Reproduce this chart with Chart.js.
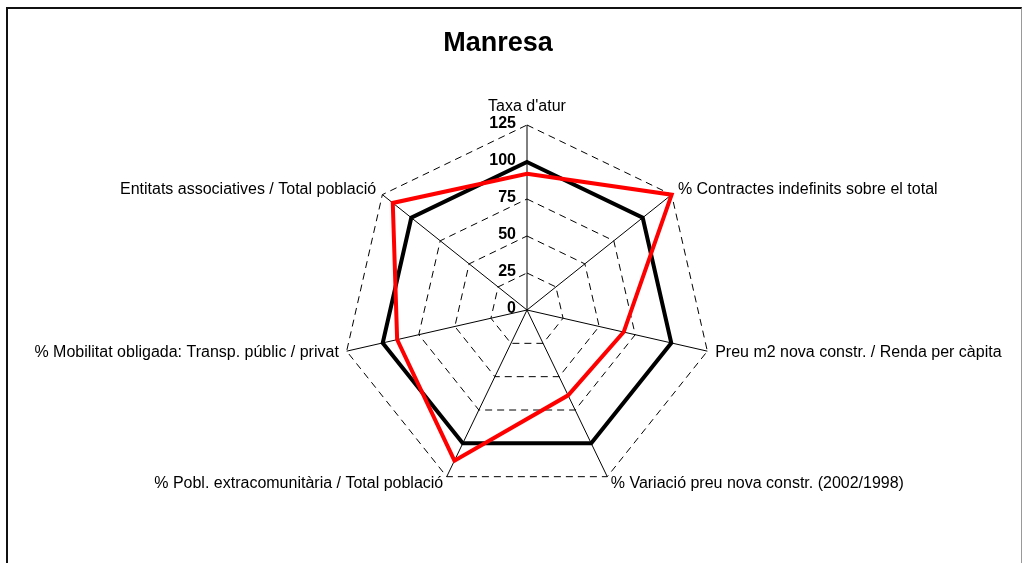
<!DOCTYPE html>
<html>
<head>
<meta charset="utf-8">
<script src="https://cdn.jsdelivr.net/npm/chart.js@4/dist/chart.umd.min.js"></script>
<style>
  html, body { margin: 0; padding: 0; background: #fff; }
  #wrap { position: relative; width: 1022px; height: 563px; overflow: hidden; }
  #frame { position: absolute; left: 6px; top: 7px; width: 1013px; height: 600px;
           border-left: 2px solid #111; border-top: 2px solid #111; border-right: 1px solid #999; }
  canvas { position: absolute; left: 0; top: 0; }
</style>
</head>
<body>
<div id="wrap">
  <div id="frame"></div>
  <canvas id="c" width="1022" height="563"></canvas>
</div>
<script>
const categories = [
  "Taxa d'atur",
  "% Contractes indefinits sobre el total",
  "Preu m2 nova constr. / Renda per càpita",
  "% Variació preu nova constr. (2002/1998)",
  "% Pobl. extracomunitària / Total població",
  "% Mobilitat obligada: Transp. públic / privat",
  "Entitats associatives / Total població"
];
const manresaValues = [92, 125, 67, 64, 113, 90, 116];
const referenceValues = [100, 100, 100, 100, 100, 100, 100];
const tickValues = [0, 25, 50, 75, 100, 125];
const chartTitle = "Manresa";

const CX = 527, CY = 310, R = 185;
const FONT = "'Liberation Sans', Arial, sans-serif";

const labelPlugin = {
  id: 'customLabels',
  afterDraw(chart) {
    const s = chart.scales.r;
    const ctx = chart.ctx;
    ctx.save();
    ctx.fillStyle = '#000';
    // tick labels
    ctx.font = 'bold 16px ' + FONT;
    ctx.textAlign = 'right';
    ctx.textBaseline = 'middle';
    s.ticks.forEach(t => {
      const d = s.getDistanceFromCenterForValue(t.value);
      ctx.fillText(String(t.value), s.xCenter - 11, s.yCenter - d - 1);
    });
    // point labels
    ctx.font = '16px ' + FONT;
    chart.data.labels.forEach((lab, i) => {
      if (i === 0) {
        const p = s.getPointPosition(0, s.drawingArea + 14);
        ctx.textAlign = 'center';
        ctx.textBaseline = 'alphabetic';
        ctx.fillText(lab, p.x, p.y);
      } else {
        const p = s.getPointPosition(i, s.drawingArea + 8);
        ctx.textAlign = p.x > s.xCenter ? 'left' : 'right';
        ctx.textBaseline = 'middle';
        ctx.fillText(lab, p.x, p.y);
      }
    });
    ctx.restore();
  }
};

new Chart(document.getElementById('c'), {
  type: 'radar',
  data: {
    labels: categories,
    datasets: [
      {
        label: 'Manresa',
        data: manresaValues,
        borderColor: '#ff0000',
        backgroundColor: 'transparent',
        borderWidth: 4,
        fill: false,
        pointRadius: 0,
        pointHoverRadius: 0,
        borderJoinStyle: 'miter',
        tension: 0
      },
      {
        label: 'Referència (100)',
        data: referenceValues,
        borderColor: '#000000',
        backgroundColor: 'transparent',
        borderWidth: 4,
        fill: false,
        pointRadius: 0,
        pointHoverRadius: 0,
        borderJoinStyle: 'miter',
        tension: 0
      }
    ]
  },
  options: {
    responsive: false,
    animation: false,
    events: [],
    layout: { padding: { left: 0, right: 26, top: 0, bottom: 0 } },
    plugins: {
      legend: { display: false },
      tooltip: { enabled: false },
      title: {
        display: true,
        text: chartTitle,
        color: '#000',
        font: { family: FONT, size: 27, weight: 'bold' },
        padding: { top: 27, bottom: 0 }
      }
    },
    scales: {
      r: {
        min: 0,
        max: 125,
        afterSetDimensions(scale) {
          scale.setCenterPoint = function () {
            this.xCenter = CX;
            this.yCenter = CY;
            this.drawingArea = R;
          };
        },
        ticks: {
          stepSize: 25,
          display: false,
          callback: (v) => (tickValues.includes(v) ? String(v) : '')
        },
        pointLabels: { display: false },
        angleLines: { display: true, color: '#000', lineWidth: 1 },
        grid: { color: '#000', lineWidth: 1, borderDash: [7, 5] },
        border: { dash: [7, 5] }
      }
    }
  },
  plugins: [labelPlugin]
});
</script>
</body>
</html>
